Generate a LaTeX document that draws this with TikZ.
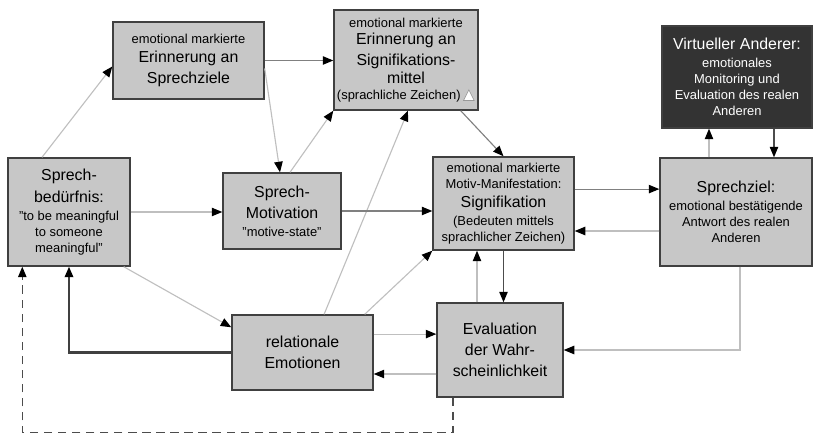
\documentclass[tikz,border=0pt]{standalone}
\usepackage{fontspec}
\setmainfont{Liberation Sans}
\newfontfamily\symfont{DejaVu Sans}
\usetikzlibrary{arrows.meta,positioning,calc}
\newcommand{\gross}{\fontsize{11.3}{14.9}\selectfont}
\newcommand{\klein}{\fontsize{9.2}{11.3}\selectfont}
\newcommand{\weissdreieck}{{\symfont\gross\rlap{\color{white}▲}{\color{black!45}△}}}

\begin{document}
\begin{tikzpicture}[
  font=\klein,
  box/.style={draw=black!75, line width=1pt, fill=black!22, align=center, inner sep=1pt},
  darkbox/.style={box, fill=black!80, text=white},
  tip/.style={-{Triangle[length=7.5pt, width=6pt, color=black]}},
  arrow/.style={tip, draw=black!25, line width=0.8pt},
  arrowmid/.style={tip, draw=black!50, line width=0.8pt},
  arrowdark/.style={tip, draw=black!70, line width=0.9pt},
  feedback/.style={tip, draw=black!75, line width=1.5pt},
  dashedarrow/.style={tip, draw=black!70, line width=0.9pt, dash pattern=on 6pt off 4pt}
]
  \useasboundingbox (0,0) rectangle (20.4,-11.15);

  \node[box, minimum width=3.05cm, minimum height=2.7cm] (bed) at (1.725,-5.3)
    {{\gross Sprech-}\\[4.2pt] {\gross bedürfnis:}\\[1.8pt] "to be meaningful\\ to someone\\ meaningful"};
  \node[box, minimum width=3.775cm, minimum height=1.925cm] (ezi) at (4.7125,-1.5125)
    {emotional markierte\\[2pt] {\gross Erinnerung an}\\[3.6pt] {\gross Sprechziele}};
  \node[box, minimum width=3.6cm, minimum height=2.5cm] (esm) at (10.15,-1.5)
    {emotional markierte\\[1pt] {\gross Erinnerung an}\\[3.6pt] {\gross Signifikations-}\\[1.4pt] {\gross mittel}\\ (sprachliche Zeichen)\,\weissdreieck};
  \node[box, minimum width=2.95cm, minimum height=1.9cm] (mot) at (7.05,-5.275)
    {{\gross Sprech-}\\[3.6pt] {\gross Motivation}\\[1.4pt] "motive-state"};
  \node[box, minimum width=3.525cm, minimum height=2.325cm] (sig) at (12.5875,-5.0875)
    {emotional markierte\\ Motiv-Manifestation:\\[2pt] {\gross Signifikation}\\[1.4pt] (Bedeuten mittels\\ sprachlicher Zeichen)};
  \node[darkbox, minimum width=3.75cm, minimum height=2.55cm] (va) at (18.425,-1.925)
    {{\gross Virtueller Anderer:}\\[1.4pt] emotionales\\ Monitoring und\\ Evaluation des realen\\ Anderen};
  \node[box, minimum width=3.8cm, minimum height=2.7cm] (ziel) at (18.4,-5.3)
    {{\gross Sprechziel:}\\[1.4pt] emotional bestätigende\\ Antwort des realen\\ Anderen};
  \node[box, font=\gross, minimum width=3.525cm, minimum height=1.875cm] (rel) at (7.5625,-8.8125)
    {relationale\\ Emotionen};
  \node[box, font=\gross, minimum width=3.15cm, minimum height=2.35cm] (eval) at (12.5,-8.75)
    {Evaluation\\ der Wahr-\\ scheinlichkeit};

  % Sprechbeduerfnis
  \draw[arrow] ([xshift=-0.675cm]bed.north) -- ([yshift=-0.15cm]ezi.west);
  \draw[arrow] (bed.east) -- (bed.east -| mot.west);
  \draw[arrow] ([xshift=-0.175cm]bed.south east) -- ([yshift=-0.325cm]rel.north west);
  \draw[feedback] (rel.west) -| (bed.south);
  \draw[dashedarrow] ([xshift=-1.175cm]eval.south) -- ++(0,-0.875) -| ([xshift=0.375cm]bed.south west);

  % Erinnerungen
  \draw[arrowmid] (ezi.east) -- (ezi.east -| esm.west);
  \draw[arrow] ([yshift=-0.2cm]ezi.east) -- ([xshift=-0.05cm]mot.north);
  \draw[arrow] ([xshift=0.2cm]mot.north) -- (esm.south west);
  \draw[arrow] ([xshift=0.54cm]rel.north) -- ([xshift=0.05cm]esm.south);
  \draw[arrowmid] ([xshift=-0.45cm]esm.south east) -- (sig.north);

  % Signifikation
  \draw[arrowmid] (mot.east) -- (mot.east -| sig.west);
  \draw[arrow] ([xshift=-0.225cm]rel.north east) -- (sig.south west);
  \draw[arrowmid] ([yshift=0.36cm]sig.east) -- ([yshift=0.36cm]sig.east -| ziel.west);
  \draw[arrow] ([yshift=-0.475cm]ziel.west) -- ([yshift=-0.475cm]ziel.west -| sig.east);
  \draw[arrow] ([xshift=-0.575cm]eval.north) -- ([xshift=-0.575cm]eval.north |- sig.south);
  \draw[arrowdark] (sig.south) -- (sig.south |- eval.north);

  % Evaluation
  \draw[arrow] ([yshift=0.46cm]rel.east) -- ([yshift=0.46cm]rel.east -| eval.west);
  \draw[arrow] ([yshift=-0.6cm]eval.west) -- ([yshift=-0.6cm]eval.west -| rel.east);
  \draw[arrow] ([xshift=0.1cm]ziel.south) |- (eval.east);

  % virtueller Anderer
  \draw[arrow] ([xshift=-0.675cm]ziel.north) -- ([xshift=-0.675cm]ziel.north |- va.south);
  \draw[arrowdark] ([xshift=0.925cm]va.south) -- ([xshift=0.925cm]va.south |- ziel.north);
\end{tikzpicture}
\end{document}
